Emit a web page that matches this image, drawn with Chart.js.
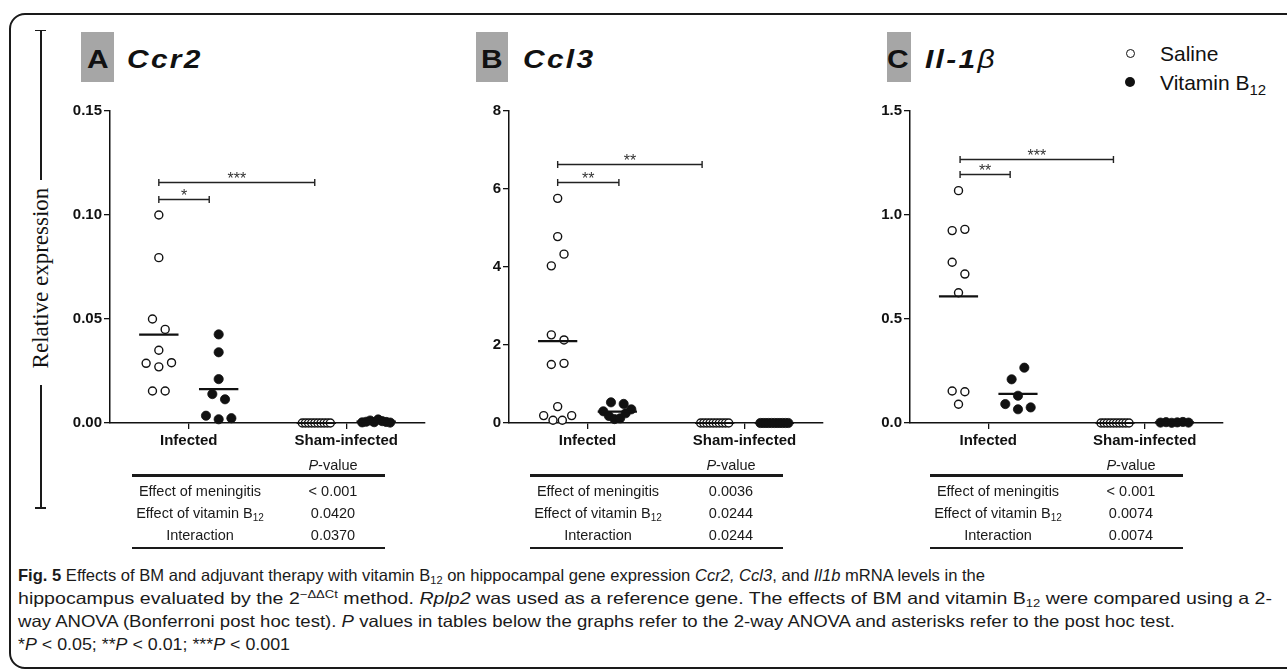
<!DOCTYPE html>
<html>
<head>
<meta charset="utf-8">
<script src="https://cdn.jsdelivr.net/npm/chart.js@4.4.1/dist/chart.umd.min.js"></script>
<style>
  html, body { margin: 0; padding: 0; background: #fff; }
  body { width: 1287px; height: 670px; position: relative; overflow: hidden;
         font-family: "Liberation Sans", Arial, sans-serif; color: #111; }
  .frame { position: absolute; left: 9px; top: 13px; width: 1310px; height: 656px;
           border: 2px solid #1a1a1a; border-radius: 16px; box-sizing: border-box; }
  canvas { position: absolute; }
  .tag { position: absolute; top: 32px; height: 50px; background: #a6a6a6; }
  .title { position: absolute; top: 46px; line-height: 26px; font-size: 26px; font-weight: bold;
           white-space: nowrap; transform: scaleX(1.15); transform-origin: 0 50%; }
  .title.gene { font-style: italic; letter-spacing: 2px; }
  .ylab { position: absolute; left: 41px; top: 278px; font-family: "Liberation Serif", "Times New Roman", serif;
          font-size: 23px; white-space: nowrap; transform: translate(-50%, -50%) rotate(-90deg); }
  .rule { position: absolute; background: #1a1a1a; }
  .leg { position: absolute; left: 1160px; font-size: 21px; line-height: 21px; white-space: nowrap; }
  .leg sub { font-size: 15px; vertical-align: -5px; line-height: 0; }
  .dot { position: absolute; width: 9px; height: 9px; border-radius: 50%; box-sizing: border-box; }
  .tbl { position: absolute; font-size: 14.5px; line-height: 16px; color: #1a1a1a; }
  .tbl .cell { position: absolute; white-space: nowrap; transform: translateX(-50%); }
  .tbl sub { font-size: 10px; vertical-align: -3px; line-height: 0; }
  .cap { position: absolute; left: 18px; font-size: 16.5px; line-height: 23px; white-space: nowrap;
         transform-origin: 0 50%; color: #1a1a1a; }
  .cap sub { font-size: 11px; vertical-align: -3px; line-height: 0; }
  .cap sup { font-size: 11px; vertical-align: 6px; line-height: 0; }
</style>
</head>
<body>
<div class="frame"></div>

<!-- shared y-axis caption with its bracket -->
<div class="rule" style="left:40px; top:30px; width:1.5px; height:150px;"></div>
<div class="rule" style="left:35px; top:29.5px; width:11px; height:1.5px;"></div>
<div class="rule" style="left:40px; top:385px; width:1.5px; height:123px;"></div>
<div class="rule" style="left:35px; top:507px; width:11px; height:1.5px;"></div>
<div class="ylab">Relative expression</div>

<!-- panel headings -->
<div class="tag" style="left:81px; width:33px;"></div>
<div class="title" style="left:87px;">A</div>
<div class="title gene" style="left:127px;">Ccr2</div>
<div class="tag" style="left:476px; width:32px;"></div>
<div class="title" style="left:481px;">B</div>
<div class="title gene" style="left:523px;">Ccl3</div>
<div class="tag" style="left:887px; width:24px;"></div>
<div class="title" style="left:887px;">C</div>
<div class="title gene" style="left:925px;">Il-1<span style="font-weight:normal">β</span></div>

<!-- legend -->
<div class="dot" style="left:1125.5px; top:48.5px; border:1.5px solid #111; background:#fff;"></div>
<div class="leg" style="top:43px;">Saline</div>
<div class="dot" style="left:1125px; top:77px; width:10px; height:10px; background:#111;"></div>
<div class="leg" style="top:72px;">Vitamin B<sub>12</sub></div>

<canvas id="panelA" width="380" height="360" style="left:60px; top:100px;"></canvas>
<canvas id="panelB" width="380" height="360" style="left:459px; top:100px;"></canvas>
<canvas id="panelC" width="380" height="360" style="left:860px; top:100px;"></canvas>

<div id="tables"></div>

<div id="caption"></div>

<script>
// ---- data ----
const groups = ['Infected', 'Sham-infected'];

const ccr2Saline     = [0.100, 0.0795, 0.050, 0.045, 0.035, 0.0287, 0.027, 0.029, 0.0154, 0.0154];
const ccr2B12        = [0.0426, 0.034, 0.0211, 0.0139, 0.0114, 0.0035, 0.0018, 0.0023];
const ccr2ShamSaline = [0, 0, 0, 0, 0, 0, 0, 0, 0, 0];
const ccr2ShamB12    = [0.0003, 0.0006, 0.0012, 0.0004, 0.0017, 0.0009, 0.0005, 0.0002];
const ccr2Ticks      = [0, 0.05, 0.10, 0.15];
const ccr2TickLabels = ['0.00', '0.05', '0.10', '0.15'];

const ccl3Saline     = [5.76, 4.78, 4.03, 4.33, 2.26, 2.13, 1.50, 1.53, 0.42, 0.19, 0.07, 0.07, 0.19];
const ccl3B12        = [0.53, 0.30, 0.18, 0.10, 0.12, 0.25, 0.35, 0.49];
const ccl3ShamSaline = [0, 0, 0, 0, 0, 0, 0, 0, 0, 0];
const ccl3ShamB12    = [0, 0, 0, 0, 0, 0, 0, 0, 0, 0, 0];
const ccl3Ticks      = [0, 2, 4, 6, 8];
const ccl3TickLabels = ['0', '2', '4', '6', '8'];

const il1bSaline     = [1.117, 0.925, 0.931, 0.773, 0.716, 0.626, 0.154, 0.150, 0.090];
const il1bB12        = [0.210, 0.266, 0.131, 0.091, 0.066, 0.075];
const il1bShamSaline = [0, 0, 0, 0, 0, 0, 0, 0, 0, 0];
const il1bShamB12    = [0.002, 0.004, 0.001, 0.003, 0.005, 0.002];
const il1bTicks      = [0, 0.5, 1.0, 1.5];
const il1bTickLabels = ['0.0', '0.5', '1.0', '1.5'];

// post hoc comparisons: [start group x, end x, bracket height, stars]
const ccr2Marks = [[0.81, 1.13, 0.1075, '*'], [0.81, 1.80, 0.1157, '***']];
const ccl3Marks = [[0.81, 1.20, 6.19, '**'], [0.81, 1.73, 6.65, '**']];
const il1bMarks = [[0.82, 1.14, 1.196, '**'], [0.82, 1.80, 1.269, '***']];

// two-way ANOVA tables
const effectRows = ['Effect of meningitis', 'Effect of vitamin B<sub>12</sub>', 'Interaction'];
const ccr2P = ['< 0.001', '0.0420', '0.0370'];
const ccl3P = ['0.0036', '0.0244', '0.0244'];
const il1bP = ['< 0.001', '0.0074', '0.0074'];

// ---- drawing ----
const INK = '#111';
const SHIFT = 0.19;      // saline left / B12 right of each group tick
const ROW_GAP = 12.2;    // px: points closer than this share a row
const mean = a => a.reduce((s, v) => s + v, 0) / a.length;

const bracketPlugin = {
  id: 'brackets',
  afterDatasetsDraw(chart, args, opts) {
    const ctx = chart.ctx, xs = chart.scales.x, ys = chart.scales.y;
    ctx.save();
    ctx.strokeStyle = '#222';
    ctx.fillStyle = '#333';
    ctx.lineWidth = 1.4;
    ctx.font = '16px "Liberation Sans", Arial, sans-serif';
    ctx.textAlign = 'center';
    ctx.textBaseline = 'alphabetic';
    for (const [a, b, v, txt] of opts.marks) {
      const x1 = xs.getPixelForValue(a), x2 = xs.getPixelForValue(b);
      const y = Math.round(ys.getPixelForValue(v)) + 0.5;
      ctx.beginPath();
      ctx.moveTo(x1, y); ctx.lineTo(x2, y);
      ctx.moveTo(x1, y - 3.5); ctx.lineTo(x1, y + 3.5);
      ctx.moveTo(x2, y - 3.5); ctx.lineTo(x2, y + 3.5);
      ctx.stroke();
      ctx.fillText(txt, (x1 + x2) / 2, y + 1.5);
    }
    ctx.restore();
  }
};

// spread points that sit at similar heights into centred rows
function swarm(chart, values, center) {
  const xs = chart.scales.x, ys = chart.scales.y;
  const pxPerUnit = xs.getPixelForValue(1) - xs.getPixelForValue(0);
  const items = values.map((v, i) => ({ v, i, py: ys.getPixelForValue(v) }));
  const sorted = items.slice().sort((a, b) => (b.py - a.py) || (a.i - b.i));
  const rows = [];
  let row = null;
  for (const it of sorted) {
    if (row && row[0].py - it.py <= ROW_GAP) row.push(it);
    else { row = [it]; rows.push(row); }
  }
  const out = new Array(values.length);
  for (const r of rows) {
    r.sort((a, b) => a.i - b.i);
    const n = r.length;
    const step = n > 1 ? Math.min(12.7, 28 / (n - 1)) : 0;
    r.forEach((it, k) => { out[it.i] = { x: center + (k - (n - 1) / 2) * step / pxPerUnit, y: it.v }; });
  }
  return out;
}

function meanLine(values, center) {
  const m = mean(values);
  return [{ x: center - 0.125, y: m }, { x: center + 0.125, y: m }];
}

function panel(id, p) {
  const tickFont = { family: '"Liberation Sans", Arial, sans-serif', size: 15, weight: 'bold' };
  const lineDs = (vals, c) => ({
    type: 'line', data: meanLine(vals, c), borderColor: INK, borderWidth: 2.2,
    pointRadius: 0, fill: false, clip: false, order: 0
  });
  const chart = new Chart(document.getElementById(id), {
    type: 'scatter',
    data: {
      datasets: [
        { label: 'Saline', data: [], pointRadius: 4, pointBorderWidth: 1.4,
          pointBackgroundColor: '#fff', pointBorderColor: INK, clip: false, order: 1 },
        { label: 'Vitamin B12', data: [], pointRadius: 4.6, pointBorderWidth: 0.8,
          pointBackgroundColor: INK, pointBorderColor: INK, clip: false, order: 1 },
        lineDs(p.saline, 1 - SHIFT),
        lineDs(p.b12, 1 + SHIFT),
        lineDs(p.shamSaline, 2 - SHIFT),
        lineDs(p.shamB12, 2 + SHIFT)
      ]
    },
    options: {
      responsive: false, animation: false, devicePixelRatio: 1,
      layout: { padding: { top: 11, right: p.right, left: 0, bottom: 0 } },
      plugins: { legend: { display: false }, tooltip: { enabled: false }, brackets: { marks: p.marks } },
      scales: {
        x: {
          type: 'linear', min: 0.5, max: 2.5,
          afterBuildTicks: s => { s.ticks = [{ value: 1 }, { value: 2 }]; },
          afterFit: s => { s.height = 37; },
          ticks: { callback: (v, i) => groups[i], color: INK, font: tickFont, padding: 3,
                   autoSkip: false, maxRotation: 0 },
          grid: { display: true, drawOnChartArea: false, drawTicks: true, tickLength: 6,
                  color: INK, lineWidth: 1.3 },
          border: { display: true, color: INK, width: 1.5 }
        },
        y: {
          type: 'linear', min: p.ticks[0], max: p.ticks[p.ticks.length - 1],
          afterBuildTicks: s => { s.ticks = p.ticks.map(v => ({ value: v })); },
          afterFit: s => { s.width = 50; },
          ticks: { callback: (v, i) => p.tickLabels[i], color: INK, font: tickFont, padding: 2 },
          grid: { display: true, drawOnChartArea: false, drawTicks: true, tickLength: 6,
                  color: INK, lineWidth: 1.3 },
          border: { display: true, color: INK, width: 1.5 }
        }
      }
    },
    plugins: [bracketPlugin]
  });
  chart.data.datasets[0].data = swarm(chart, p.saline, 1 - SHIFT).concat(swarm(chart, p.shamSaline, 2 - SHIFT));
  chart.data.datasets[1].data = swarm(chart, p.b12, 1 + SHIFT).concat(swarm(chart, p.shamB12, 2 + SHIFT));
  chart.update('none');
  return chart;
}

panel('panelA', { saline: ccr2Saline, b12: ccr2B12, shamSaline: ccr2ShamSaline, shamB12: ccr2ShamB12,
                  ticks: ccr2Ticks, tickLabels: ccr2TickLabels, marks: ccr2Marks, right: 15 });
panel('panelB', { saline: ccl3Saline, b12: ccl3B12, shamSaline: ccl3ShamSaline, shamB12: ccl3ShamB12,
                  ticks: ccl3Ticks, tickLabels: ccl3TickLabels, marks: ccl3Marks, right: 16 });
panel('panelC', { saline: il1bSaline, b12: il1bB12, shamSaline: il1bShamSaline, shamB12: il1bShamB12,
                  ticks: il1bTicks, tickLabels: il1bTickLabels, marks: il1bMarks, right: 17 });

// ANOVA tables under each panel
function table(left, pvals) {
  const wrap = document.createElement('div');
  wrap.className = 'tbl';
  wrap.style.left = left + 'px';
  wrap.style.top = '0px';
  let html = `<div class="cell" style="left:201px; top:457px;"><i>P</i>-value</div>`;
  html += `<div class="rule" style="left:0; top:473.5px; width:253px; height:3px;"></div>`;
  const rowY = [483, 505, 527];
  effectRows.forEach((r, i) => {
    html += `<div class="cell" style="left:68px; top:${rowY[i]}px;">${r}</div>`;
    html += `<div class="cell" style="left:201px; top:${rowY[i]}px;">${pvals[i]}</div>`;
  });
  html += `<div class="rule" style="left:0; top:547px; width:253px; height:2px;"></div>`;
  wrap.innerHTML = html;
  document.getElementById('tables').appendChild(wrap);
}
table(132, ccr2P);
table(530, ccl3P);
table(930, il1bP);

// figure legend text, each line fitted to its set width
const captionLines = [
  '<b>Fig. 5</b> Effects of BM and adjuvant therapy with vitamin B<sub>12</sub> on hippocampal gene expression <i>Ccr2, Ccl3</i>, and <i>Il1b</i> mRNA levels in the',
  'hippocampus evaluated by the 2<sup>\u2212\u0394\u0394Ct</sup> method. <i>Rplp2</i> was used as a reference gene. The effects of BM and vitamin B<sub>12</sub> were compared using a 2-',
  'way ANOVA (Bonferroni post hoc test). <i>P</i> values in tables below the graphs refer to the 2-way ANOVA and asterisks refer to the post hoc test.',
  '*<i>P</i> &lt; 0.05; **<i>P</i> &lt; 0.01; ***<i>P</i> &lt; 0.001'
];
const captionWidths = [967, 1254, 1157, 272];
const capBox = document.getElementById('caption');
captionLines.forEach((t, i) => {
  const d = document.createElement('div');
  d.className = 'cap';
  d.style.top = (563.5 + i * 23.3) + 'px';
  d.innerHTML = t;
  capBox.appendChild(d);
  const k = captionWidths[i] / d.getBoundingClientRect().width;
  d.style.transform = `scaleX(${k})`;
});
</script>
</body>
</html>
